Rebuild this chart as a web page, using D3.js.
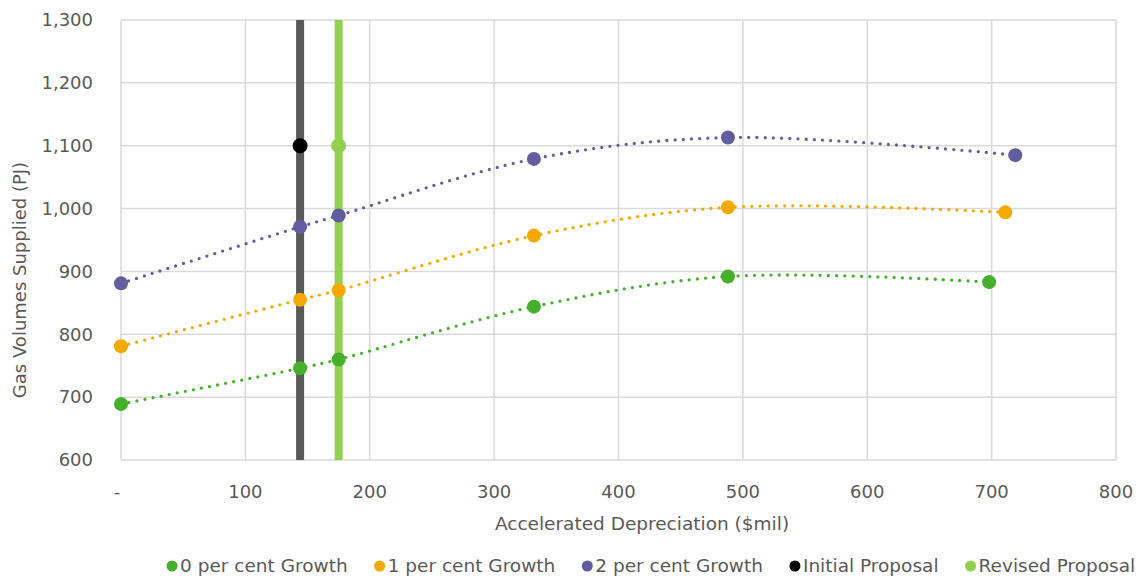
<!DOCTYPE html>
<html>
<head>
<meta charset="utf-8">
<script src="https://cdn.jsdelivr.net/npm/d3@7"></script>
<style>
  body { margin: 0; background: #fff; }
  text { font-family: "DejaVu Sans", Verdana, sans-serif; fill: #595959; }
</style>
</head>
<body>
<script>
// data
var seriesNames = ["0 per cent Growth", "1 per cent Growth", "2 per cent Growth"];
var growth0x = [0, 144, 175, 332, 488, 698];
var growth0y = [689, 746, 760, 844, 892, 883];
var growth1x = [0, 144, 175, 332, 488, 711];
var growth1y = [781, 855, 870, 957, 1002, 994];
var growth2x = [0, 144, 175, 332, 488, 719];
var growth2y = [881, 971, 989, 1079, 1113, 1085];
var proposalNames = ["Initial Proposal", "Revised Proposal"];
var proposalX = [144, 175];
var proposalY = [1100, 1100];
var xTicks = [0, 100, 200, 300, 400, 500, 600, 700, 800];
var yTicks = [600, 700, 800, 900, 1000, 1100, 1200, 1300];

var colors = ["#46b02c", "#f4a900", "#625d9e"];
var propColors = ["#000000", "#92d050"];
var propLineColors = ["#595959", "#92d050"];

var W = 1141, H = 578;
var margin = {top: 20, right: 25, bottom: 118, left: 121};
var width = W - margin.left - margin.right,
    height = H - margin.top - margin.bottom;

var svg = d3.select("body").append("svg")
    .attr("width", W)
    .attr("height", H);
var g = svg.append("g")
    .attr("transform", "translate(" + margin.left + "," + margin.top + ")");

var x = d3.scaleLinear().domain([0, 800]).range([0, width]);
var y = d3.scaleLinear().domain([600, 1300]).range([height, 0]);

// gridlines
g.selectAll(".hgrid").data(yTicks).enter().append("line")
    .attr("x1", 0).attr("x2", width)
    .attr("y1", function (d) { return y(d); })
    .attr("y2", function (d) { return y(d); })
    .attr("stroke", "#d9d9d9").attr("stroke-width", 1.5);
g.selectAll(".vgrid").data(xTicks).enter().append("line")
    .attr("y1", 0).attr("y2", height)
    .attr("x1", function (d) { return x(d); })
    .attr("x2", function (d) { return x(d); })
    .attr("stroke", "#d9d9d9").attr("stroke-width", 1.5);

// tick labels
var fmt = d3.format(",");
g.selectAll(".ylab").data(yTicks).enter().append("text")
    .attr("x", -28).attr("y", function (d) { return y(d); })
    .attr("dy", "0.35em").attr("text-anchor", "end")
    .style("font-size", "18px")
    .text(function (d) { return fmt(d); });
g.selectAll(".xlab").data(xTicks).enter().append("text")
    .attr("x", function (d) { return d === 0 ? x(d) - 4 : x(d); })
    .attr("y", height + 32)
    .attr("dy", "0.35em").attr("text-anchor", "middle")
    .style("font-size", "18px")
    .text(function (d) { return d === 0 ? "-" : fmt(d); });

// axis titles
svg.append("text")
    .attr("x", 642).attr("y", 524).attr("dy", "0.35em")
    .attr("text-anchor", "middle").style("font-size", "18.5px")
    .text("Accelerated Depreciation ($mil)");
svg.append("text")
    .attr("transform", "translate(20,280) rotate(-90)")
    .attr("dy", "0.35em")
    .attr("text-anchor", "middle").style("font-size", "18px")
    .text("Gas Volumes Supplied (PJ)");

// proposal lines
proposalX.forEach(function (px, i) {
    g.append("line")
        .attr("x1", x(px)).attr("x2", x(px))
        .attr("y1", y(1300)).attr("y2", y(600))
        .attr("stroke", propLineColors[i]).attr("stroke-width", 8);
});

var series = [
    {xs: growth0x, ys: growth0y},
    {xs: growth1x, ys: growth1y},
    {xs: growth2x, ys: growth2y}
];

// smoothed dotted lines through the points
var line = d3.line()
    .curve(d3.curveCatmullRom.alpha(0.5))
    .x(function (d) { return x(d[0]); })
    .y(function (d) { return y(d[1]); });

series.forEach(function (s, i) {
    var pts = s.xs.map(function (v, j) { return [v, s.ys[j]]; });
    g.append("path")
        .datum(pts)
        .attr("d", line)
        .attr("fill", "none")
        .attr("stroke", colors[i])
        .attr("stroke-width", 3.3)
        .attr("stroke-linecap", "round")
        .attr("stroke-dasharray", "0 8.2");
});

// markers
series.forEach(function (s, i) {
    g.selectAll(".m" + i).data(s.xs).enter().append("circle")
        .attr("cx", function (d) { return x(d); })
        .attr("cy", function (d, j) { return y(s.ys[j]); })
        .attr("r", 7)
        .attr("fill", colors[i]);
});
proposalX.forEach(function (px, i) {
    g.append("circle")
        .attr("cx", x(px)).attr("cy", y(proposalY[i]))
        .attr("r", 7.5).attr("fill", propColors[i]);
});

// legend
var legendItems = seriesNames.map(function (n, i) { return {name: n, color: colors[i]}; })
    .concat(proposalNames.map(function (n, i) { return {name: n, color: propColors[i]}; }));
var legend = svg.append("g").attr("transform", "translate(0,566)");
var lx = 166;
legendItems.forEach(function (it) {
    legend.append("circle").attr("cx", lx + 6).attr("cy", 0).attr("r", 5.5).attr("fill", it.color);
    var t = legend.append("text").attr("x", lx + 14).attr("y", 0).attr("dy", "0.35em")
        .style("font-size", "18.5px").text(it.name);
    lx += 14 + t.node().getComputedTextLength() + 26;
});
</script>
</body>
</html>
